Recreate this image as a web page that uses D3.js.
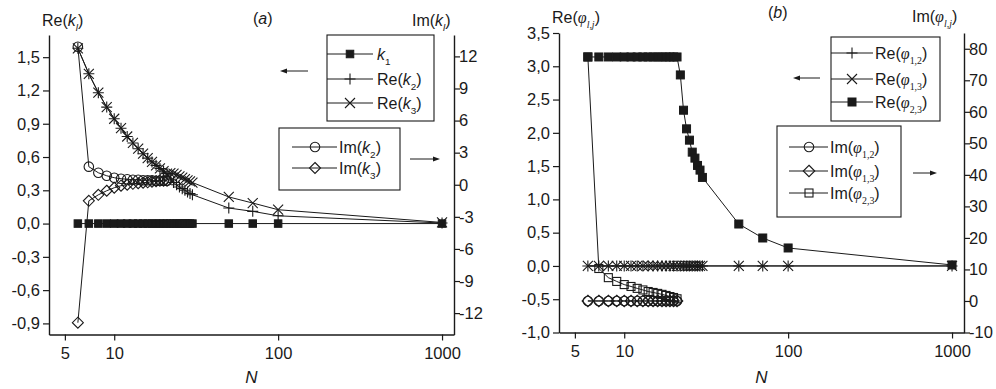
<!DOCTYPE html>
<html><head><meta charset="utf-8">
<script src="https://cdn.jsdelivr.net/npm/d3@7"></script>
<style>
body{margin:0;background:#fff}
svg{display:block}
text{font-family:"Liberation Sans",Arial,sans-serif;fill:#1a1a1a}
</style>
</head><body>
<svg id="c" width="996" height="389"></svg>
<script>
// ---------- data ----------
const N = [6,7,8,9,10,11,12,13,14,15,16,17,18,19,20,21,22,23,24,25,26,27,28,29,30,50,70,100,1000];
const N_im = [6,7,8,9,10,11,12,13,14,15,16,17,18,19,20,21];

// panel (a)
const k1   = [0,0,0,0,0,0,0,0,0,0,0,0,0,0,0,0,0,0,0,0,0,0,0,0,0,0,0,0,0];
const reK2 = [1.58,1.35,1.18,1.05,0.945,0.86,0.785,0.727,0.675,0.63,0.59,0.556,0.525,0.497,0.472,0.45,0.40,0.37,0.35,0.33,0.315,0.30,0.285,0.27,0.26,0.14,0.11,0.07,0.005];
const reK3 = [1.58,1.35,1.18,1.05,0.945,0.86,0.785,0.727,0.675,0.63,0.59,0.556,0.525,0.497,0.472,0.45,0.455,0.45,0.44,0.425,0.415,0.40,0.39,0.38,0.37,0.24,0.185,0.125,0.01];
const imK2 = [12.9,1.69,1.12,0.84,0.66,0.56,0.52,0.47,0.47,0.42,0.42,0.42,0.37,0.37,0.37,0.37];
const imK3 = [-12.9,-1.5,-0.94,-0.56,-0.28,-0.09,0,0.09,0.14,0.19,0.23,0.28,0.33,0.37,0.37,0.37];

// panel (b)
const reP12 = [0,0,0,0,0,0,0,0,0,0,0,0,0,0,0,0,0,0,0,0,0,0,0,0,0,0,0,0,0];
const reP13 = [0,0,0,0,0,0,0,0,0,0,0,0,0,0,0,0,0,0,0,0,0,0,0,0,0,0,0,0,0];
const reP23 = [3.14,3.14,3.14,3.14,3.14,3.14,3.14,3.14,3.14,3.14,3.14,3.14,3.14,3.14,3.14,3.14,2.87,2.34,2.06,1.89,1.71,1.62,1.51,1.44,1.33,0.63,0.42,0.27,0.015];
const imP12 = [0,0,0,0,0,0,0,0,0,0,0,0,0,0,0,0];
const imP13 = [0,0,0,0,0,0,0,0,0,0,0,0,0,0,0,0];
const imP23 = [77.4,10.3,7.4,6.2,5.2,4.6,4.0,3.5,3.0,2.7,2.4,2.1,1.75,1.4,1.1,0.7];

// ticks
const xMajor = [5,10,100,1000];
const xMinor = [6,7,8,9,20,30,40,50,60,70,80,90,200,300,400,500,600,700,800,900];
const aLeftMajor = [-0.9,-0.6,-0.3,0,0.3,0.6,0.9,1.2,1.5];
const aRightMajor = [-12,-9,-6,-3,0,3,6,9,12];
const bLeftMajor = [-1,-0.5,0,0.5,1,1.5,2,2.5,3,3.5];
const bRightMajor = [-10,0,10,20,30,40,50,60,70,80];

// ---------- drawing ----------
const svg = d3.select("#c");
const INK = "#1a1a1a";

const fmtDec = v => d3.format(".1f")(v).replace(".", ",").replace("−","-");
const fmtInt = v => String(v);

function rich(g, x, y, parts, anchor, size) {
  size = size || 16;
  const t = g.append("text").attr("x", x).attr("y", y)
    .attr("text-anchor", anchor || "start").style("font-size", size + "px");
  let shifted = false;
  parts.forEach(p => {
    const ts = t.append("tspan").text(p.t);
    if (p.i) ts.style("font-style", "italic");
    if (p.serif) ts.style("font-family", "'Liberation Serif','Times New Roman',serif");
    if (p.sub) {
      ts.style("font-size", (size * 0.62) + "px");
      if (!shifted) { ts.attr("dy", size * 0.3); shifted = true; }
    } else if (shifted) { ts.attr("dy", -size * 0.3); shifted = false; }
  });
  return t;
}

function marker(g, type, x, y, s) {
  if (type === "fsq") {
    g.append("rect").attr("x", x - s/2).attr("y", y - s/2).attr("width", s).attr("height", s)
      .attr("fill", INK).attr("stroke", INK).attr("stroke-width", 1);
  } else if (type === "osq") {
    g.append("rect").attr("x", x - s/2).attr("y", y - s/2).attr("width", s).attr("height", s)
      .attr("fill", "none").attr("stroke", INK).attr("stroke-width", 1.1);
  } else if (type === "plus") {
    g.append("path").attr("d", `M${x - s/2},${y}H${x + s/2}M${x},${y - s/2}V${y + s/2}`)
      .attr("stroke", INK).attr("stroke-width", 1.1).attr("fill", "none");
  } else if (type === "cross") {
    const h = s/2;
    g.append("path").attr("d", `M${x-h},${y-h}L${x+h},${y+h}M${x-h},${y+h}L${x+h},${y-h}`)
      .attr("stroke", INK).attr("stroke-width", 1.1).attr("fill", "none");
  } else if (type === "circ") {
    g.append("circle").attr("cx", x).attr("cy", y).attr("r", s/2)
      .attr("fill", "none").attr("stroke", INK).attr("stroke-width", 1.1);
  } else if (type === "diam") {
    const h = s/2;
    g.append("path").attr("d", `M${x},${y-h}L${x+h},${y}L${x},${y+h}L${x-h},${y}Z`)
      .attr("fill", "none").attr("stroke", INK).attr("stroke-width", 1.1);
  }
}

function series(g, xs, ys, xS, yS, type, size) {
  const line = d3.line().x((d, i) => xS(xs[i])).y(d => yS(d));
  g.append("path").datum(ys).attr("d", line).attr("fill", "none").attr("stroke", INK).attr("stroke-width", 1);
  return () => ys.forEach((v, i) => marker(g, type, xS(xs[i]), yS(v), size));
}

function axes(g, x, yL, yR, leftMajor, leftStep, leftFmt, rightMajor, rightStep, rightFmt) {
  const [x0, x1] = x.range();
  const [yb, yt] = yL.range();
  const bx = g.append("g").attr("transform", `translate(0,${yb})`);
  bx.call(d3.axisBottom(x).tickValues(xMinor).tickSize(4).tickSizeOuter(0).tickFormat(""));
  bx.call(d3.axisBottom(x).tickValues(xMajor).tickSize(6).tickSizeOuter(0).tickFormat(d3.format("d")));
  const lMinor = d3.range(yL.domain()[0], yL.domain()[1] + 1e-9, leftStep / 2);
  const la = g.append("g").attr("transform", `translate(${x0},0)`);
  la.call(d3.axisLeft(yL).tickValues(lMinor).tickSize(3.5).tickSizeOuter(0).tickFormat(""));
  la.call(d3.axisLeft(yL).tickValues(leftMajor).tickSize(6).tickSizeOuter(0).tickFormat(leftFmt));
  const rMinor = d3.range(yR.domain()[0], yR.domain()[1] + 1e-9, rightStep / 2);
  const ra = g.append("g").attr("transform", `translate(${x1},0)`);
  ra.call(d3.axisRight(yR).tickValues(rMinor).tickSize(3.5).tickSizeOuter(0).tickFormat(""));
  ra.call(d3.axisRight(yR).tickValues(rightMajor).tickSize(6).tickSizeOuter(0).tickFormat(rightFmt));

  g.selectAll(".domain").attr("stroke", INK).attr("stroke-width", 1.4);
  g.selectAll(".tick line").attr("stroke", INK).attr("stroke-width", 1.2);
  g.selectAll(".tick text").style("font-size", "16.5px").style("font-family", "'Liberation Sans',Arial,sans-serif").attr("fill", INK);
  bx.selectAll(".tick text").attr("dy", "0.95em");
  la.selectAll(".tick text").attr("x", -9);
  ra.selectAll(".tick text").attr("x", 5);
}

function arrow(g, xFrom, xTo, y) {
  const dir = xTo > xFrom ? 1 : -1;
  g.append("line").attr("x1", xFrom).attr("x2", xTo - dir * 5).attr("y1", y).attr("y2", y)
    .attr("stroke", INK).attr("stroke-width", 1);
  g.append("path").attr("d", `M${xTo},${y}L${xTo - dir*7},${y-2.5}L${xTo - dir*7},${y+2.5}Z`).attr("fill", INK);
}

function legend(g, box, rows, lineX0, lineX1, symX, textX) {
  g.append("rect").attr("x", box[0]).attr("y", box[1]).attr("width", box[2] - box[0]).attr("height", box[3] - box[1])
    .attr("fill", "#fff").attr("stroke", INK).attr("stroke-width", 1.1);
  rows.forEach(r => {
    g.append("line").attr("x1", lineX0).attr("x2", lineX1).attr("y1", r.y).attr("y2", r.y)
      .attr("stroke", INK).attr("stroke-width", 1);
    marker(g, r.type, symX, r.y, r.size);
    rich(g, textX, r.y + 6, r.parts);
  });
}

// ===== panel (a) =====
{
  const g = svg.append("g");
  const x = d3.scaleLog().domain([4, 1183]).range([49, 454]);
  const yL = d3.scaleLinear().domain([-1, 1.7]).range([334.5, 35]);
  const yR = d3.scaleLinear().domain([-14, 14]).range([334.5, 35]);
  axes(g, x, yL, yR, aLeftMajor, 0.3, fmtDec, aRightMajor, 3, fmtInt);

  const d = [];
  d.push(series(g, N, k1, x, yL, "fsq", 7.5));
  d.push(series(g, N, reK2, x, yL, "plus", 11));
  d.push(series(g, N, reK3, x, yL, "cross", 10));
  d.push(series(g, N_im, imK2, x, yR, "circ", 9.5));
  d.push(series(g, N_im, imK3, x, yR, "diam", 11));
  d.forEach(f => f());

  rich(g, 42, 26, [{t:"Re("},{t:"k",i:true},{t:"l",i:true,sub:true},{t:")"}]);
  rich(g, 412, 26, [{t:"Im("},{t:"k",i:true},{t:"l",i:true,sub:true},{t:")"}]);
  rich(g, 253, 24, [{t:"("},{t:"a",i:true},{t:")"}]);
  rich(g, 251.5, 383, [{t:"N",i:true}], "middle", 17);

  legend(g, [327, 35, 434, 121], [
    {y:54, type:"fsq", size:7.5, parts:[{t:"k",i:true},{t:"1",sub:true}]},
    {y:79, type:"plus", size:11, parts:[{t:"Re("},{t:"k",i:true},{t:"2",sub:true},{t:")"}]},
    {y:103, type:"cross", size:10, parts:[{t:"Re("},{t:"k",i:true},{t:"3",sub:true},{t:")"}]}
  ], 327, 373, 350, 377);
  legend(g, [279, 128, 400, 190], [
    {y:147, type:"circ", size:9.5, parts:[{t:"Im("},{t:"k",i:true},{t:"2",sub:true},{t:")"}]},
    {y:168, type:"diam", size:11, parts:[{t:"Im("},{t:"k",i:true},{t:"3",sub:true},{t:")"}]}
  ], 292, 337, 315, 339);
  arrow(g, 308, 280, 71);
  arrow(g, 410, 440, 159);
}

// ===== panel (b) =====
{
  const g = svg.append("g");
  const x = d3.scaleLog().domain([4, 1183]).range([559, 964]);
  const yL = d3.scaleLinear().domain([-1, 3.5]).range([332.5, 33]);
  const yR = d3.scaleLinear().domain([-10, 85]).range([332.5, 33]);
  axes(g, x, yL, yR, bLeftMajor, 0.5, fmtDec, bRightMajor, 10, fmtInt);

  const d = [];
  d.push(series(g, N, reP12, x, yL, "plus", 11));
  d.push(series(g, N, reP13, x, yL, "cross", 10));
  d.push(series(g, N_im, imP12, x, yR, "circ", 9.5));
  d.push(series(g, N_im, imP13, x, yR, "diam", 11.5));
  d.push(series(g, N_im, imP23, x, yR, "osq", 8));
  d.push(series(g, N, reP23, x, yL, "fsq", 8));
  d.forEach(f => f());

  const phi = {t:"φ", i:true, serif:true};
  rich(g, 552, 23, [{t:"Re("}, phi, {t:"l,j",i:true,serif:true,sub:true},{t:")"}]);
  rich(g, 912, 22, [{t:"Im("}, phi, {t:"l,j",i:true,serif:true,sub:true},{t:")"}]);
  rich(g, 768, 18, [{t:"("},{t:"b",i:true},{t:")"}]);
  rich(g, 761.5, 383, [{t:"N",i:true}], "middle", 17);

  const sub = s => ({t:s, serif:true, sub:true});
  legend(g, [831, 37, 940, 121], [
    {y:53, type:"plus", size:11, parts:[{t:"Re("}, phi, sub("1,2"), {t:")"}]},
    {y:79, type:"cross", size:10, parts:[{t:"Re("}, phi, sub("1,3"), {t:")"}]},
    {y:102, type:"fsq", size:8, parts:[{t:"Re("}, phi, sub("2,3"), {t:")"}]}
  ], 831, 873, 852, 875);
  legend(g, [777, 126, 901, 217], [
    {y:147, type:"circ", size:9.5, parts:[{t:"Im("}, phi, sub("1,2"), {t:")"}]},
    {y:171, type:"diam", size:11.5, parts:[{t:"Im("}, phi, sub("1,3"), {t:")"}]},
    {y:193, type:"osq", size:8, parts:[{t:"Im("}, phi, sub("2,3"), {t:")"}]}
  ], 789, 828, 809, 830);
  arrow(g, 820, 793, 78);
  arrow(g, 913, 937, 173);
}
</script>
</body></html>
